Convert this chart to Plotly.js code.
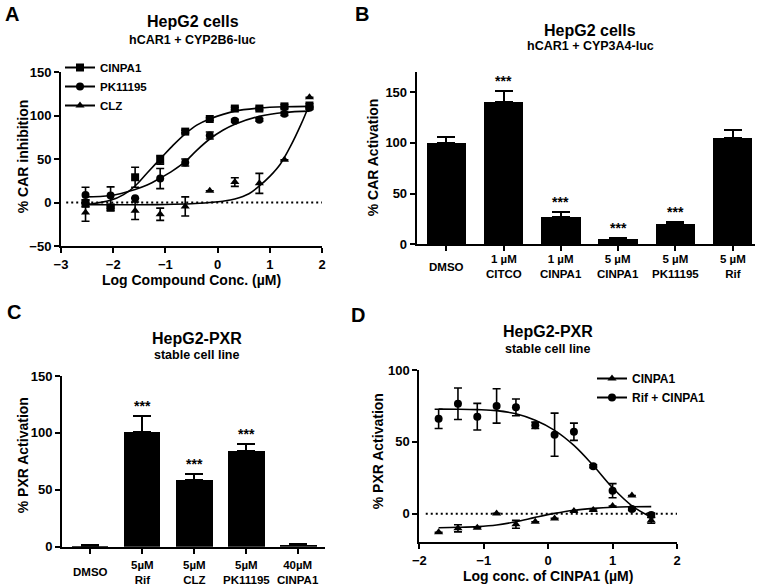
<!DOCTYPE html>
<html><head><meta charset="utf-8">
<script src="https://cdn.plot.ly/plotly-3.0.1.min.js"></script>
<style>body{margin:0;background:#fff}#chart{width:764px;height:585px}</style>
</head><body><div id="chart"></div>
<script>
// ---------- Panel A : HepG2 cells, hCAR1 + CYP2B6-luc ----------
const aLogConc   = [-2.53, -2.05, -1.58, -1.1, -0.62, -0.15, 0.33, 0.8, 1.28, 1.76];
const aCinpa1    = [-1, -6, 29, 49, 81.5, 96, 108, 108, 110.5, 111.5];
const aCinpa1Err = [4, 3, 11.5, 5, 1.5, 1.5, 1.5, 1.5, 2, 2];
const aPk        = [8.5, 8, 5, 27.5, 46, 77, 94, 95, 102, 109];
const aPkErr     = [9, 10, 0, 11.5, 4, 4, 1.5, 1.5, 2, 2];
const aClz       = [-11.5, -5, -9.5, -13.5, -4.5, 13.5, 23.5, 22, 49, 121];
const aClzErr    = [10, 0, 10, 7, 11, 0, 5, 11.5, 0, 0];
// fitted curves
const aCinpa1FitX = [-2.53, -2.05, -1.8, -1.58, -1.35, -1.1, -0.85, -0.62, -0.4, -0.15, 0.33, 0.8, 1.28, 1.76];
const aCinpa1FitY = [-2.5, 2.5, 9, 19, 34, 50, 66, 79, 89, 96, 105, 108.5, 110, 110.5];
const aPkFitX = [-2.53, -2.05, -1.58, -1.35, -1.1, -0.85, -0.62, -0.4, -0.15, 0.1, 0.33, 0.8, 1.28, 1.76];
const aPkFitY = [6.5, 8, 15, 20, 28, 37, 47, 60, 73, 83, 90, 99, 103.5, 105];
const aClzFitX = [-2.53, -1.5, -1.0, -0.5, -0.15, 0.1, 0.33, 0.6, 0.8, 1.0, 1.2, 1.4, 1.6, 1.76];
const aClzFitY = [-2.5, -2.5, -2.3, -1.5, 0, 1.5, 4, 10, 19, 30, 44, 65, 90, 113];

// ---------- Panel B : HepG2 cells, hCAR1 + CYP3A4-luc ----------
const bLabels = ['DMSO', '1 \u00b5M<br>CITCO', '1 \u00b5M<br>CINPA1', '5 \u00b5M<br>CINPA1', '5 \u00b5M<br>PK11195', '5 \u00b5M<br>Rif'];
const bValues = [100, 140.5, 27.3, 5.6, 19.7, 104.6];
const bErr    = [6, 10.5, 4.6, 1, 2.3, 7.9];
const bSig    = ['', '***', '***', '***', '***', ''];

// ---------- Panel C : HepG2-PXR stable cell line ----------
const cLabels = ['DMSO', '5\u00b5M<br>Rif', '5\u00b5M<br>CLZ', '5\u00b5M<br>PK11195', '40\u00b5M<br>CINPA1'];
const cValues = [1, 100.9, 58.8, 84.4, 1.5];
const cErr    = [0.5, 14, 5, 6, 1];
const cSig    = ['', '***', '***', '***', ''];

// ---------- Panel D : HepG2-PXR stable cell line ----------
const dLogConc   = [-1.7, -1.4, -1.1, -0.8, -0.5, -0.2, 0.1, 0.4, 0.7, 1.0, 1.3, 1.6];
const dCinpa1    = [-13, -10.2, -9.8, 0.2, -7.4, -5.6, -3.3, 1.9, 2.6, 5.3, 12.6, -4.7];
const dCinpa1Err = [0, 2.5, 0, 0, 2.7, 0, 0, 0, 0, 0, 0, 2];
const dRif       = [66, 76.5, 67.5, 75, 74, 61.5, 55, 57, 33, 16, 3.3, -1];
const dRifErr    = [6.7, 11, 9.3, 12, 5.8, 2.2, 15, 6, 1, 4.9, 1, 1.5];
const dCinpa1Fit = [-9.8, -9.5, -9.0, -7.9, -5.6, -2.6, 0.2, 2.4, 3.7, 4.5, 4.8, 4.9];
const dRifFit    = [72.8, 72.7, 72.4, 71.7, 69.5, 65, 58, 47.5, 33.5, 18, 5.5, -2.5];

const FAM = 'Liberation Sans, Arial, Helvetica, sans-serif';
const W = 764, H = 585;
const px = v => v / W;
const py = v => 1 - v / H;

function errBar(arr, w) {
  return {type: 'data', array: arr, visible: true, color: '#000', thickness: 1.6, width: w};
}
function pts(x, y, err, sym, xa, ya) {
  return {x: x, y: y, type: 'scatter', mode: 'markers', xaxis: xa, yaxis: ya, showlegend: false,
    cliponaxis: false, marker: {symbol: sym, size: 8, color: '#000'}, error_y: errBar(err, 4)};
}
function fit(x, y, xa, ya) {
  return {x: x, y: y, type: 'scatter', mode: 'lines', xaxis: xa, yaxis: ya, showlegend: false,
    cliponaxis: false, line: {color: '#000', width: 1.6, shape: 'spline', smoothing: 1}, hoverinfo: 'skip'};
}
function legendItem(name, sym, xa, ya, leg) {
  return {x: [null], y: [null], type: 'scatter', mode: 'lines+markers', name: name, xaxis: xa, yaxis: ya,
    legend: leg, showlegend: true, marker: {symbol: sym, size: 8, color: '#000'}, line: {color: '#000', width: 2}};
}
function bars(labels, vals, err, xa, ya, w) {
  return {x: labels, y: vals, type: 'bar', xaxis: xa, yaxis: ya, width: w, showlegend: false,
    marker: {color: '#000', line: {width: 0}}, cliponaxis: false,
    error_y: {type: 'data', symmetric: false, array: err, arrayminus: err.map(() => 0),
      color: '#000', thickness: 2, width: 9}};
}

const traces = [
  // A
  fit(aCinpa1FitX, aCinpa1FitY, 'x', 'y'),
  fit(aPkFitX, aPkFitY, 'x', 'y'),
  fit(aClzFitX, aClzFitY, 'x', 'y'),
  pts(aLogConc, aClz, aClzErr, 'triangle-up', 'x', 'y'),
  pts(aLogConc, aPk, aPkErr, 'circle', 'x', 'y'),
  pts(aLogConc, aCinpa1, aCinpa1Err, 'square', 'x', 'y'),
  legendItem('CINPA1', 'square', 'x', 'y', 'legend'),
  legendItem('PK11195', 'circle', 'x', 'y', 'legend'),
  legendItem('CLZ', 'triangle-up', 'x', 'y', 'legend'),
  // B
  bars(bLabels, bValues, bErr, 'x2', 'y2', 0.686),
  // C
  bars(cLabels, cValues, cErr, 'x3', 'y3', 0.7),
  // D
  fit(dLogConc, dRifFit, 'x4', 'y4'),
  fit(dLogConc, dCinpa1Fit, 'x4', 'y4'),
  pts(dLogConc, dCinpa1, dCinpa1Err, 'triangle-up', 'x4', 'y4'),
  pts(dLogConc, dRif, dRifErr, 'circle', 'x4', 'y4'),
  legendItem('CINPA1', 'triangle-up', 'x4', 'y4', 'legend2'),
  legendItem('Rif + CINPA1', 'circle', 'x4', 'y4', 'legend2')
];

const tickFont = {family: FAM, size: 13, color: '#000', weight: 'bold'};
const titleFont = {family: FAM, size: 14, color: '#000', weight: 'bold'};
function axis(extra) {
  return Object.assign({showline: true, linecolor: '#000', linewidth: 2, ticks: 'outside', ticklen: 5,
    tickwidth: 2, tickcolor: '#000', showgrid: false, zeroline: false, tickfont: tickFont,
    fixedrange: true}, extra);
}

const annotations = [];
function txt(text, x, y, size, extra) {
  annotations.push(Object.assign({text: text, x: px(x), y: py(y), xref: 'paper', yref: 'paper',
    showarrow: false, xanchor: 'center', yanchor: 'middle',
    font: {family: FAM, size: size, color: '#000', weight: 'bold'}}, extra || {}));
}
// panel letters and titles
txt('A', 12, 14, 20); txt('B', 362, 14, 20); txt('C', 14, 312, 20); txt('D', 358, 315, 20);
txt('HepG2 cells', 193, 22, 16); txt('hCAR1 + CYP2B6-luc', 193, 40, 12.5);
txt('HepG2 cells', 590, 30, 16); txt('hCAR1 + CYP3A4-luc', 590, 46.5, 12.5);
txt('HepG2-PXR', 197, 338.5, 16); txt('stable cell line', 197, 355, 12.5);
txt('HepG2-PXR', 548, 331.5, 16); txt('stable cell line', 548, 348.5, 12.5);
// y axis titles
txt('% CAR inhibition', 23.3, 156, 14, {textangle: -90});
txt('% CAR Activation', 373.3, 157, 14, {textangle: -90});
txt('% PXR Activation', 23.3, 455, 14, {textangle: -90});
txt('% PXR Activation', 378.3, 451, 14, {textangle: -90});

// category labels under the bars
function catLabels(labels, xa, yCenter) {
  labels.forEach(lab => {
    annotations.push({text: lab, x: lab, xref: xa, y: py(yCenter), yref: 'paper', showarrow: false,
      xanchor: 'center', yanchor: 'middle', align: 'center',
      font: {family: FAM, size: 11.5, color: '#000', weight: 'bold'}});
  });
}
catLabels(bLabels, 'x2', 267);
catLabels(cLabels, 'x3', 572);

function stars(labels, vals, err, sig, xa, ya) {
  labels.forEach((lab, i) => {
    if (!sig[i]) return;
    annotations.push({text: sig[i], x: lab, y: vals[i] + err[i], xref: xa, yref: ya, showarrow: false,
      xanchor: 'center', yanchor: 'bottom', yshift: 0,
      font: {family: FAM, size: 14, color: '#000'}});
  });
}
stars(bLabels, bValues, bErr, bSig, 'x2', 'y2');
stars(cLabels, cValues, cErr, cSig, 'x3', 'y3');

const dotted = {color: '#000', width: 2, dash: '2px,3px'};
const layout = {
  width: W, height: H, margin: {l: 0, r: 0, t: 0, b: 0},
  paper_bgcolor: '#fff', plot_bgcolor: 'rgba(0,0,0,0)',
  font: {family: FAM, color: '#000', weight: 'bold'},
  bargap: 0,
  xaxis: axis({domain: [px(61), px(322)], range: [-3, 2], tickvals: [-3, -2, -1, 0, 1, 2], anchor: 'y',
    title: {text: 'Log Compound Conc. (\u00b5M)', font: titleFont, standoff: 0}}),
  yaxis: axis({domain: [py(246), py(72)], range: [-50, 150], tickvals: [-50, 0, 50, 100, 150], anchor: 'x'}),
  xaxis2: axis({domain: [px(416.7), px(755)], range: [-0.517, 5.39], type: 'category', anchor: 'y2',
    showticklabels: false}),
  yaxis2: axis({domain: [py(244.3), py(71.7)], range: [0, 170], tickvals: [0, 50, 100, 150], anchor: 'x2'}),
  xaxis3: axis({domain: [px(62), px(325)], range: [-0.54, 4.51], type: 'category', anchor: 'y3',
    showticklabels: false}),
  yaxis3: axis({domain: [py(546.7), py(376)], range: [0, 150], tickvals: [0, 50, 100, 150], anchor: 'x3'}),
  xaxis4: axis({domain: [px(419.3), px(677)], range: [-2, 2], tickvals: [-2, -1, 0, 1, 2], anchor: 'y4',
    title: {text: 'Log conc. of CINPA1 (\u00b5M)', font: titleFont, standoff: 0}}),
  yaxis4: axis({domain: [py(542.4), py(370)], range: [-20, 100], tickvals: [0, 50, 100], anchor: 'x4'}),
  legend: {x: px(60), y: py(53), xanchor: 'left', yanchor: 'top', bgcolor: 'rgba(0,0,0,0)',
    font: {family: FAM, size: 11.5, color: '#000', weight: 'bold'}, tracegroupgap: 0},
  legend2: {x: px(592), y: py(364), xanchor: 'left', yanchor: 'top', bgcolor: 'rgba(0,0,0,0)',
    font: {family: FAM, size: 12, color: '#000', weight: 'bold'}, tracegroupgap: 0},
  shapes: [
    {type: 'line', xref: 'x', yref: 'y', x0: -2.9, x1: 2, y0: 0, y1: 0, line: dotted, layer: 'below'},
    {type: 'line', xref: 'x4', yref: 'y4', x0: -1.9, x1: 2, y0: 0, y1: 0, line: dotted, layer: 'below'}
  ],
  annotations: annotations,
  showlegend: true
};

Plotly.newPlot('chart', traces, layout, {staticPlot: true, displayModeBar: false});
</script>
</body></html>
